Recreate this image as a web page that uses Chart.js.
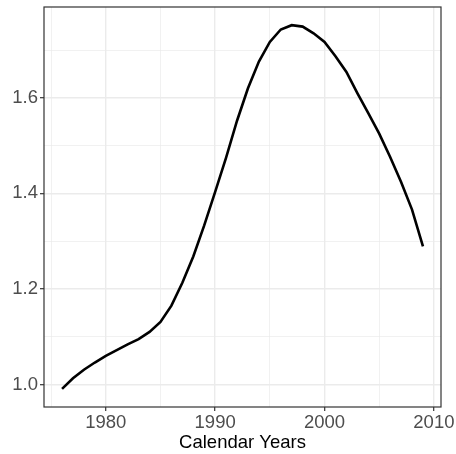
<!DOCTYPE html>
<html lang="en">
<head>
  <meta charset="UTF-8">
  <title>Calendar Years</title>
  <script src="https://cdn.jsdelivr.net/npm/chart.js"></script>
  <style>
    html, body { margin: 0; padding: 0; background: #fff; }
    canvas { display: block; }
  </style>
</head>
<body>
  <canvas id="grafica" width="456" height="454"></canvas>

  <script>
    // Datos
    const years = [1976, 1977, 1978, 1979, 1980, 1981, 1982, 1983, 1984, 1985,
                   1986, 1987, 1988, 1989, 1990, 1991, 1992, 1993, 1994, 1995,
                   1996, 1997, 1998, 1999, 2000, 2001, 2002, 2003, 2004, 2005,
                   2006, 2007, 2008, 2009];
    const values = [0.991, 1.013, 1.031, 1.046, 1.060, 1.072, 1.084, 1.095, 1.110, 1.131,
                    1.165, 1.213, 1.268, 1.333, 1.403, 1.475, 1.552, 1.620, 1.676, 1.717,
                    1.743, 1.752, 1.749, 1.735, 1.717, 1.687, 1.654, 1.610, 1.568, 1.525,
                    1.476, 1.424, 1.366, 1.289];

    const xMajor = [1980, 1990, 2000, 2010];
    const xMinor = [1975, 1985, 1995, 2005];
    const yMajor = [1.0, 1.2, 1.4, 1.6];
    const yMinor = [1.1, 1.3, 1.5, 1.7];

    // rango con la expansion del 5% como en ggplot
    const xMin = Math.min(...years), xMax = Math.max(...years);
    const yMin = Math.min(...values), yMax = Math.max(...values);
    const xPad = (xMax - xMin) * 0.05, yPad = (yMax - yMin) * 0.05;

    const gridColor = '#ebebeb';
    const darkGray = '#333333';
    const font = { family: 'Liberation Sans, Arial, sans-serif', size: 18.5 };

    // marco del panel
    const panelBorder = {
      id: 'panelBorder',
      afterDatasetsDraw(chart) {
        const a = chart.chartArea;
        const c = chart.ctx;
        c.save();
        c.strokeStyle = darkGray;
        c.lineWidth = 1.2;
        c.strokeRect(a.left, a.top, a.right - a.left, a.bottom - a.top);
        c.restore();
      }
    };

    function makeTicks(major, minor) {
      return scale => {
        scale.ticks = major.concat(minor).sort((a, b) => a - b).map(v => ({ value: v }));
      };
    }

    new Chart(document.getElementById('grafica'), {
      type: 'line',
      data: {
        datasets: [{
          data: years.map((y, i) => ({ x: y, y: values[i] })),
          borderColor: '#000',
          borderWidth: 2.6,
          pointRadius: 0,
          tension: 0,
          fill: false
        }]
      },
      options: {
        responsive: false,
        animation: false,
        devicePixelRatio: 1,
        layout: { padding: { top: 7, right: 15, left: 0, bottom: 0 } },
        plugins: {
          legend: { display: false },
          tooltip: { enabled: false }
        },
        scales: {
          x: {
            type: 'linear',
            min: xMin - xPad,
            max: xMax + xPad,
            afterBuildTicks: makeTicks(xMajor, xMinor),
            afterFit: s => { s.height = 47; s.paddingLeft = 0; s.paddingRight = 0; },
            border: { display: false },
            grid: {
              color: gridColor,
              lineWidth: c => xMajor.includes(c.tick && c.tick.value) ? 1.4 : 0.7,
              tickColor: c => xMajor.includes(c.tick && c.tick.value) ? darkGray : 'rgba(0,0,0,0)',
              tickLength: 4,
              tickWidth: 1.2
            },
            ticks: {
              autoSkip: false,
              maxRotation: 0,
              padding: 1,
              color: '#4d4d4d',
              font: font,
              callback: v => xMajor.includes(v) ? String(v) : ''
            },
            title: {
              display: true,
              text: 'Calendar Years',
              color: '#000',
              font: { family: font.family, size: 18.5 },
              padding: { top: 0, bottom: 0 }
            }
          },
          y: {
            min: yMin - yPad,
            max: yMax + yPad,
            afterBuildTicks: makeTicks(yMajor, yMinor),
            afterFit: s => { s.width = 44; s.paddingTop = 0; s.paddingBottom = 0; },
            border: { display: false },
            grid: {
              color: gridColor,
              lineWidth: c => yMajor.includes(c.tick && c.tick.value) ? 1.4 : 0.7,
              tickColor: c => yMajor.includes(c.tick && c.tick.value) ? darkGray : 'rgba(0,0,0,0)',
              tickLength: 4,
              tickWidth: 1.2
            },
            ticks: {
              autoSkip: false,
              padding: 2,
              color: '#4d4d4d',
              font: font,
              callback: v => yMajor.includes(v) ? v.toFixed(1) : ''
            }
          }
        }
      },
      plugins: [panelBorder]
    });
  </script>
</body>
</html>
